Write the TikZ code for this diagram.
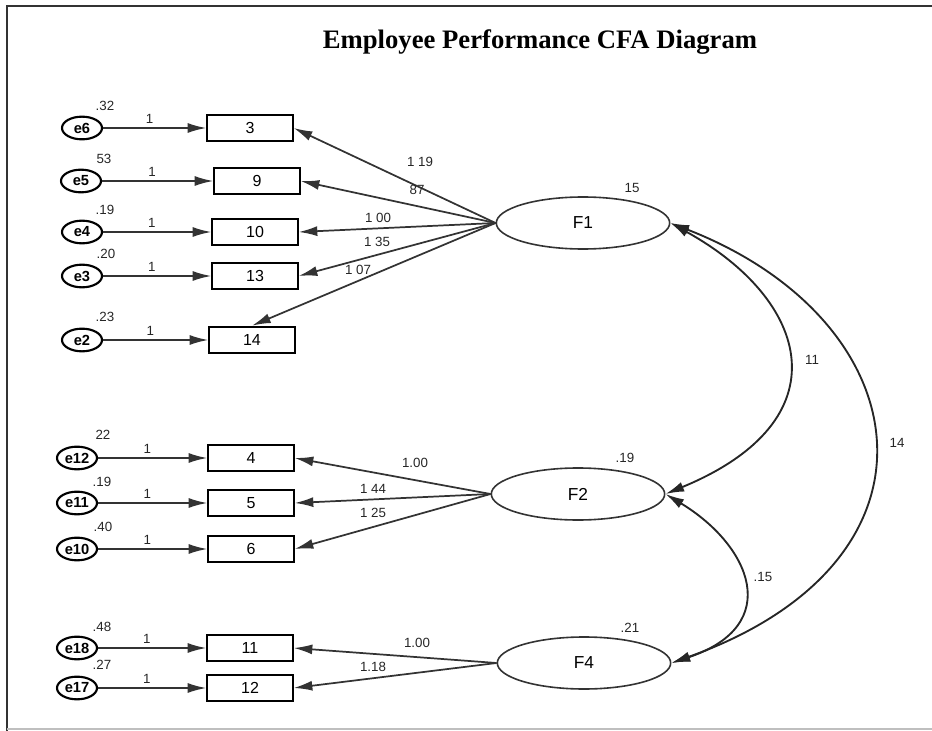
\documentclass[tikz,border=0pt]{standalone}
\usepackage{fontspec}
\newfontfamily\diagfont{Liberation Sans}
\newfontfamily\headfont{Liberation Serif}
\usetikzlibrary{arrows.meta,shapes.geometric}

\tikzset{
  obs/.style={draw=black, line width=1.5pt, minimum width=64pt, minimum height=20pt,
    inner sep=0pt, font=\diagfont\fontsize{12}{12}\selectfont},
  err/.style={ellipse, draw=black, line width=1.6pt, minimum width=30pt, minimum height=17pt,
    inner sep=0pt, font=\diagfont\bfseries\fontsize{11}{11}\selectfont},
  lat/.style={ellipse, draw=black!80, line width=1.2pt, minimum width=130pt, minimum height=39pt,
    inner sep=0pt, font=\diagfont\fontsize{13}{13}\selectfont},
  load/.style={-{Latex[length=14pt,width=7.5pt]}, line width=1.3pt, draw=black!80},
  cov/.style={{Latex[length=14pt,width=7.5pt]}-{Latex[length=14pt,width=7.5pt]}, line width=1.4pt, draw=black!85},
  lbl/.style={font=\diagfont\fontsize{10}{10}\selectfont, inner sep=0pt, text=black!85}
}

\begin{document}
\begin{tikzpicture}[x=0.75pt, y=-0.75pt]
\useasboundingbox (0,0) rectangle (932,731);

% frame
\draw[black!80, line width=1.5pt] (7,731) -- (7,6) -- (932,6);
\draw[black!25, line width=1pt] (7,729) -- (932,729);

% title
\node[font=\headfont\bfseries\fontsize{20}{20}\selectfont] (title) at (540,42) {Employee Performance CFA Diagram};

% latent factors
\node[lat] (F1) at (583,223) {F1};
\node[lat] (F2) at (578,494) {F2};
\node[lat] (F4) at (584,663) {F4};

% observed indicators
\node[obs] (b3)  at (250,128) {3};
\node[obs] (b9)  at (257,181) {9};
\node[obs] (b10) at (255,232) {10};
\node[obs] (b13) at (255,276) {13};
\node[obs] (b14) at (252,340) {14};
\node[obs] (b4)  at (251,458) {4};
\node[obs] (b5)  at (251,503) {5};
\node[obs] (b6)  at (251,549) {6};
\node[obs] (b11) at (250,648) {11};
\node[obs] (b12) at (250,688) {12};

% error terms
\node[err] (e6)  at (82,128) {e6};
\node[err] (e5)  at (81,181) {e5};
\node[err] (e4)  at (82,232) {e4};
\node[err] (e3)  at (82,276) {e3};
\node[err] (e2)  at (82,340) {e2};
\node[err] (e12) at (77,458) {e12};
\node[err] (e11) at (77,503) {e11};
\node[err] (e10) at (77,549) {e10};
\node[err] (e18) at (77,648) {e18};
\node[err] (e17) at (77,688) {e17};

% error paths with fixed weight 1
\foreach \e/\b in {e6/b3,e5/b9,e4/b10,e3/b13,e2/b14,e12/b4,e11/b5,e10/b6,e18/b11,e17/b12}{
  \draw[load] (\e) -- node[lbl, pos=0.45, above=3pt] {1} (\b);
}

% error variances
\node[lbl] (v6)  at ([shift={(23,-22)}]e6.center)  {.32};
\node[lbl] (v5)  at ([shift={(23,-22)}]e5.center)  {53};
\node[lbl] (v4)  at ([shift={(23,-22)}]e4.center)  {.19};
\node[lbl] (v3)  at ([shift={(24,-22)}]e3.center)  {.20};
\node[lbl] (v2)  at ([shift={(23,-23)}]e2.center)  {.23};
\node[lbl] (v12) at ([shift={(26,-23)}]e12.center) {22};
\node[lbl] (v11) at ([shift={(25,-21)}]e11.center) {.19};
\node[lbl] (v10) at ([shift={(26,-22)}]e10.center) {.40};
\node[lbl] (v18) at ([shift={(25,-21)}]e18.center) {.48};
\node[lbl] (v17) at ([shift={(25,-23)}]e17.center) {.27};

% factor loadings
\draw[load] (F1.west) -- (b3.east);
\draw[load] (F1.west) -- (b9.east);
\draw[load] (F1.west) -- (b10.east);
\draw[load] (F1.west) -- (b13.east);
\draw[load] (F1.west) -- (b14.north);
\draw[load] (F2.west) -- (b4.east);
\draw[load] (F2.west) -- (b5.east);
\draw[load] (F2.west) -- (b6.east);
\draw[load] (F4.west) -- (b11.east);
\draw[load] (F4.west) -- (b12.east);

\node[lbl] (l3)  at (420,162) {1 19};
\node[lbl] (l9)  at (417,190) {87};
\node[lbl] (l10) at (378,218) {1 00};
\node[lbl] (l13) at (377,242) {1 35};
\node[lbl] (l14) at (358,270) {1 07};
\node[lbl] (l4)  at (415,463) {1.00};
\node[lbl] (l5)  at (373,489) {1 44};
\node[lbl] (l6)  at (373,513) {1 25};
\node[lbl] (l11) at (417,643) {1.00};
\node[lbl] (l12) at (373,667) {1.18};

% factor variances
\node[lbl] (vF1) at (632,188) {15};
\node[lbl] (vF2) at (625,458) {.19};
\node[lbl] (vF4) at (630,628) {.21};

% factor covariances
\draw[cov] (F1.east) .. controls (810,300) and (845,420) .. (F2.east);
\draw[cov] (F1.east) .. controls (920,320) and (960,560) .. (F4.east);
\draw[cov] (F2.east) .. controls (750,545) and (785,625) .. (F4.east);

\node[lbl] (c12) at (812,360) {11};
\node[lbl] (c14) at (897,443) {14};
\node[lbl] (c24) at (763,577) {.15};
\end{tikzpicture}
\end{document}
